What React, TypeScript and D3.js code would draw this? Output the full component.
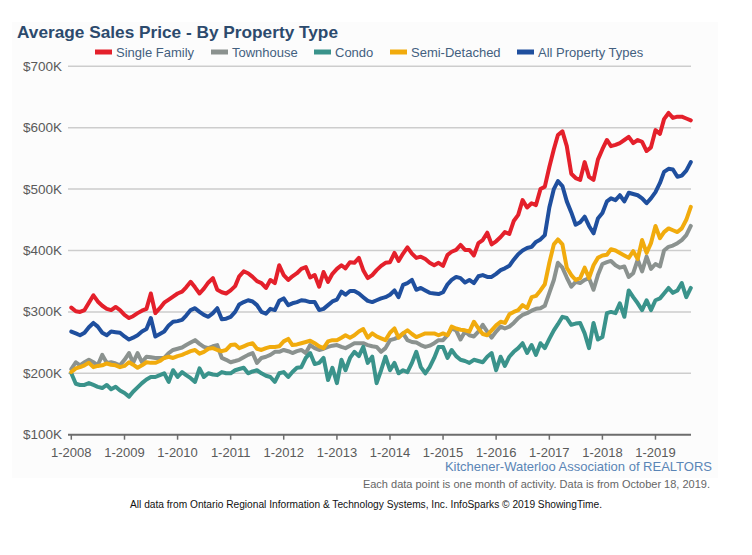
import React from "react";
import * as d3 from "d3";

const seriesNames = ["Single Family", "Townhouse", "Condo", "Semi-Detached", "All Property Types"];
const seriesColors = ["#e4202b", "#8b928f", "#3a938b", "#f1ab0d", "#1f4f9e"];

// values in $K, monthly from 1-2008 to 9-2019
const singleFamily = [
  307,301,300,303,315,327,317,310,305,303,308,303,
  295,290,293,298,302,305,330,298,306,315,320,325,
  330,333,340,349,340,330,338,348,355,336,332,330,
  335,342,358,366,363,357,350,347,339,352,347,376,
  360,352,358,363,370,373,356,360,341,365,349,362,
  370,376,371,381,380,388,368,355,360,368,375,380,
  381,396,383,395,405,395,388,390,386,380,376,380,
  375,393,398,401,409,401,401,392,412,417,429,410,
  415,422,430,427,448,458,482,470,477,474,500,504,
  536,565,588,594,570,525,518,515,544,520,515,548,
  565,580,570,572,575,580,585,575,580,577,562,568,
  596,590,614,624,616,618,618,615,612,
];
const townhouse = [
  207,218,213,218,222,218,213,230,217,218,216,213,
  222,233,217,233,218,227,226,225,225,225,233,238,
  240,242,246,250,254,248,243,241,244,246,225,222,
  218,220,222,226,230,233,217,225,227,230,235,235,
  238,236,233,236,238,233,246,241,238,240,243,245,
  246,243,241,245,249,249,249,246,244,243,235,241,
  254,256,259,265,254,251,250,246,243,245,249,254,
  254,262,273,270,255,268,262,260,268,279,268,258,
  268,276,273,276,282,290,295,298,302,305,306,310,
  331,352,380,372,356,341,349,347,352,355,336,360,
  378,381,383,376,372,374,357,363,385,366,390,370,
  378,374,400,406,408,412,417,425,440,
];
const condo = [
  200,183,181,181,184,181,178,176,181,174,178,172,
  168,162,170,177,184,190,194,194,197,200,186,205,
  194,202,197,192,186,208,194,200,198,197,202,200,
  200,205,207,209,200,203,205,200,196,194,186,200,
  202,194,202,209,210,225,233,215,217,225,189,209,
  184,222,205,225,235,228,243,217,227,184,205,227,
  205,217,200,205,202,217,235,210,200,210,225,243,
  243,225,238,228,222,220,217,222,220,218,227,233,
  205,227,212,227,235,241,249,233,246,230,249,241,
  256,270,280,292,290,279,281,282,265,241,282,255,
  259,298,300,298,314,292,335,324,314,303,319,303,
  319,322,330,339,331,335,347,324,339,
];
const semiDetached = [
  202,208,210,213,217,210,212,213,216,214,213,210,
  212,218,214,209,213,218,217,217,220,225,227,225,
  228,230,233,236,238,232,235,240,241,238,236,238,
  246,247,241,244,247,249,240,238,241,243,243,244,
  252,256,246,247,249,251,253,249,244,241,252,254,
  254,258,262,258,262,268,272,258,265,260,257,254,
  266,273,258,265,270,264,259,262,265,265,265,262,
  265,262,276,273,271,270,268,284,273,264,262,270,
  278,284,282,296,300,303,311,306,324,326,335,345,
  380,410,418,410,372,360,352,355,372,355,376,388,
  392,393,402,400,396,392,388,399,386,417,396,412,
  440,420,430,436,433,430,436,450,471,
];
const allTypes = [
  268,265,262,266,275,282,276,266,262,268,267,266,
  260,255,258,262,268,272,290,260,264,268,278,284,
  285,287,294,303,306,300,295,292,298,306,288,289,
  292,300,312,316,319,317,311,300,297,305,303,318,
  322,311,314,316,319,318,316,316,303,305,311,317,
  320,333,328,334,334,330,324,318,316,319,322,324,
  328,335,324,344,347,352,336,339,335,331,330,329,
  332,345,352,357,355,348,352,347,358,360,357,357,
  362,368,371,375,385,394,400,404,406,414,418,425,
  470,500,513,505,480,462,442,446,455,440,428,452,
  461,480,485,482,490,480,494,492,490,485,477,485,
  495,510,528,533,532,520,522,530,544,
];

const allSeries = [singleFamily, townhouse, condo, semiDetached, allTypes];
const yTicks = [100, 200, 300, 400, 500, 600, 700];
const xTickYears = [2008, 2009, 2010, 2011, 2012, 2013, 2014, 2015, 2016, 2017, 2018, 2019];

const legendX = [116, 232, 335, 411, 538];

export default function App() {
  const startDate = new Date(2008, 0, 1);
  const endDate = new Date(2019, 8, 1);
  const x = d3.scaleTime().domain([startDate, endDate]).range([71.3, 690.8]);
  const y = d3.scaleLinear().domain([100, 700]).range([434.7, 66.3]);
  const months = d3.timeMonth.range(startDate, new Date(2019, 9, 1));

  const line = d3
    .line<number>()
    .x((_, i) => x(months[i]))
    .y((d) => y(d))
    .curve(d3.curveLinear);

  const font = "'Liberation Sans', Arial, sans-serif";
  const gridLeft = 68;
  const gridRight = 691;

  return (
    <svg
      width={752}
      height={555}
      style={{ position: "absolute", left: 0, top: 0, background: "#ffffff" }}
      fontFamily={font}
    >
      <rect x={12} y={22} width={706} height={456} fill="#fcfcfc" />
      <text x={17} y={38} fontSize={17} fontWeight="bold" fill="#2c4a6d" textLength={321} lengthAdjust="spacingAndGlyphs">
        Average Sales Price - By Property Type
      </text>
      {seriesNames.map((n, i) => (
        <g key={n}>
          <rect x={legendX[i] - 21} y={49.5} width={17} height={5} fill={seriesColors[i]} />
          <text x={legendX[i]} y={56.5} fontSize={13} fill="#43607f">
            {n}
          </text>
        </g>
      ))}
      {yTicks.map((t) => (
        <g key={t}>
          {t !== 100 && (
            <line x1={gridLeft} x2={gridRight} y1={y(t)} y2={y(t)} stroke="#cdcdcd" strokeWidth={1.5} />
          )}
          <text x={62} y={y(t) + 4.5} fontSize={13.5} fill="#5a5a5a" textAnchor="end">
            ${t}K
          </text>
        </g>
      ))}
      {allSeries.map((s, i) => (
        <path
          key={i}
          d={line(s) || ""}
          fill="none"
          stroke={seriesColors[i]}
          strokeWidth={4}
          strokeLinejoin="round"
          strokeLinecap="round"
        />
      ))}
      <line x1={gridLeft} x2={gridRight} y1={y(100)} y2={y(100)} stroke="#6d6d6d" strokeWidth={2} />
      {xTickYears.map((yr) => {
        const xx = x(new Date(yr, 0, 1));
        return (
          <g key={yr}>
            <line x1={xx} x2={xx} y1={y(100)} y2={y(100) + 5} stroke="#6d6d6d" strokeWidth={1.5} />
            <text x={xx} y={457} fontSize={13} fill="#5a5a5a" textAnchor="middle">
              1-{yr}
            </text>
          </g>
        );
      })}
      <text x={712} y={471} fontSize={13} fill="#5a85b6" textAnchor="end">
        Kitchener-Waterloo Association of REALTORS
      </text>
      <text x={710} y={488} fontSize={11} fill="#666" textAnchor="end">
        Each data point is one month of activity. Data is from October 18, 2019.
      </text>
      <text x={366} y={508} fontSize={10} fill="#111" textAnchor="middle" textLength={472} lengthAdjust="spacingAndGlyphs">
        All data from Ontario Regional Information &amp; Technology Systems, Inc. InfoSparks © 2019 ShowingTime.
      </text>
    </svg>
  );
}
